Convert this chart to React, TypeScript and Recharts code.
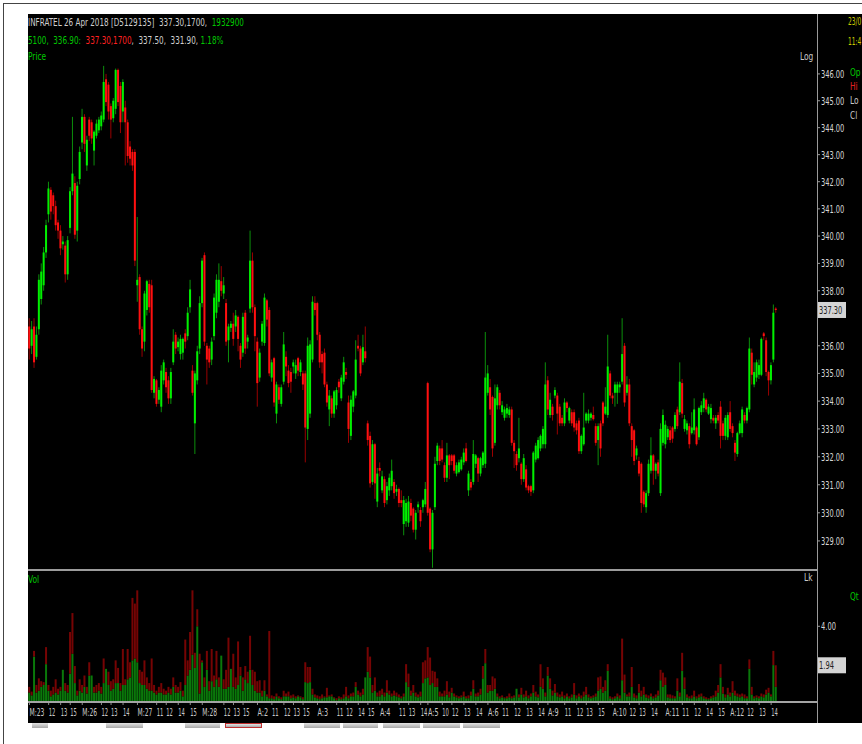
import { Bar, ComposedChart, ReferenceLine, XAxis, YAxis } from "recharts";

const FONT = '"Liberation Sans Narrow", "Arial Narrow", "DejaVu Sans Condensed", sans-serif';

// 10-minute candles, INFRATEL, 23 Mar - 12 Apr 2018
const opens = [
  336.7, 336.0, 336.7, 335.6, 336.6, 337.7, 338.2, 339.4, 340.8, 341.7,
  341.5, 341.1, 340.5, 340.2, 339.7, 339.65, 338.6, 340.3, 341.65, 341.95,
  340.2, 342.1, 343.45, 344.4, 342.6, 344.3, 344.2, 343.15, 343.7, 343.9,
  344.05, 344.3, 345.8, 345.6, 344.8, 344.35, 344.7, 346.15, 345.55, 344.6,
  344.75, 344.2, 343.3, 343.1, 343.1, 338.2, 338.5, 336.6, 336.15, 337.3,
  338.25, 338.2, 334.3, 334.75, 334.05, 333.8, 334.75, 335.05, 334.75, 334.1,
  335.4, 336.4, 335.95, 335.7, 335.75, 336.45, 336.35, 337.4, 335.1, 333.2,
  334.75, 335.9, 337.55, 339.3, 336.0, 335.9, 335.5, 336.35, 337.2, 337.6,
  338.35, 337.9, 337.55, 336.2, 336.65, 336.8, 336.7, 337.05, 336.0, 335.75,
  337.2, 336.15, 337.35, 339.1, 337.4, 336.15, 334.85, 336.15, 336.1, 337.65,
  337.3, 334.85, 335.55, 333.55, 334.5, 333.9, 334.7, 335.6, 335.1, 335.05,
  335.25, 335.0, 335.55, 335.05, 335.0, 335.0, 333.0, 333.55, 335.5, 337.55,
  337.55, 336.4, 335.7, 335.75, 334.6, 333.7, 334.1, 333.55, 333.85, 334.7,
  334.1, 334.7, 335.05, 333.95, 332.75, 333.8, 334.2, 336.0, 335.9, 335.4,
  335.8, 333.2, 332.75, 331.1, 332.45, 330.4, 331.6, 330.8, 331.2, 330.45,
  330.8, 330.95, 331.1, 330.75, 330.85, 330.45, 329.6, 329.7, 329.65, 330.35,
  330.15, 329.4, 330.2, 330.1, 330.2, 330.3, 334.65, 330.15, 328.7, 330.2,
  331.85, 332.3, 332.3, 331.7, 331.25, 332.05, 332.05, 332.05, 331.4, 331.45,
  331.55, 331.8, 332.3, 330.8, 331.1, 331.1, 331.75, 331.95, 331.4, 331.7,
  331.75, 334.3, 334.5, 334.15, 332.5, 333.85, 334.3, 333.6, 333.4, 333.55,
  333.5, 333.7, 332.5, 332.1, 331.95, 331.75, 331.2, 331.55, 330.95, 330.95,
  330.8, 331.9, 331.95, 332.3, 332.45, 332.45, 334.75, 333.5, 333.8, 334.2,
  334.2, 333.8, 333.4, 333.2, 333.95, 333.3, 333.6, 333.6, 333.2, 333.3,
  332.2, 332.45, 333.3, 333.3, 333.4, 333.5, 333.1, 332.6, 333.2, 333.95,
  333.55, 333.5, 335.0, 334.2, 334.3, 334.3, 334.5, 334.7, 336.0, 334.3,
  334.6, 333.1, 332.95, 332.05, 331.85, 331.75, 330.75, 330.2, 330.7, 331.5,
  332.05, 331.5, 331.8, 330.7, 332.5, 332.45, 332.7, 332.95, 333.05, 333.0,
  333.7, 333.6, 334.65, 333.0, 332.95, 333.1, 332.85, 332.95, 333.05, 332.7,
  333.6, 333.75, 334.05, 333.55, 333.35, 333.4, 333.2, 333.5, 333.8, 333.2,
  332.75, 332.7, 333.6, 333.1, 332.5, 332.1, 332.85, 332.85, 333.5, 333.3,
  333.7, 335.75, 334.6, 334.85, 334.95, 334.95, 336.45, 336.2, 335.05, 334.75,
  335.5, 337.35,
];

const highs = [
  337.0, 336.9, 337.0, 336.7, 338.6, 339.0, 339.6, 340.6, 342.0, 341.8,
  341.6, 341.3, 340.6, 340.4, 340.0, 339.8, 340.0, 341.8, 344.4, 342.2,
  342.0, 343.3, 344.7, 344.5, 343.7, 344.4, 344.3, 343.9, 344.3, 344.4,
  344.6, 346.3, 346.0, 345.7, 344.9, 345.1, 346.2, 346.2, 345.7, 345.8,
  345.0, 344.3, 343.5, 343.2, 343.2, 340.7, 338.6, 336.7, 338.0, 338.4,
  338.4, 338.4, 334.9, 334.8, 334.5, 335.3, 335.5, 335.2, 334.9, 335.2,
  336.6, 336.5, 336.3, 336.4, 336.3, 336.6, 337.4, 338.4, 335.3, 335.1,
  336.0, 337.8, 339.2, 339.4, 336.1, 336.0, 336.3, 337.9, 338.6, 339.0,
  338.9, 338.5, 337.7, 336.8, 336.9, 337.2, 337.3, 337.1, 336.1, 337.2,
  337.3, 336.4, 340.2, 339.4, 337.5, 336.3, 335.9, 336.9, 337.9, 337.7,
  337.4, 335.5, 335.6, 334.7, 334.6, 334.6, 336.5, 335.8, 335.3, 335.2,
  335.5, 335.5, 335.6, 335.5, 335.1, 335.1, 336.3, 336.2, 337.8, 337.8,
  337.6, 336.5, 335.8, 335.9, 334.7, 334.4, 334.2, 334.4, 334.5, 334.8,
  334.95, 335.6, 335.2, 334.2, 334.2, 334.4, 336.2, 336.4, 336.0, 336.4,
  336.7, 333.3, 332.9, 332.6, 332.5, 331.6, 331.8, 331.5, 331.3, 331.1,
  331.4, 331.9, 331.2, 331.0, 330.9, 330.8, 330.6, 330.5, 330.6, 330.5,
  330.2, 330.1, 330.4, 330.2, 330.5, 331.1, 334.7, 330.2, 330.1, 332.0,
  332.5, 332.4, 332.6, 331.8, 332.5, 332.1, 332.1, 332.1, 331.8, 331.9,
  332.0, 332.3, 332.5, 331.5, 331.2, 332.6, 332.1, 332.0, 332.0, 332.2,
  336.5, 335.3, 334.8, 334.2, 334.6, 334.6, 334.4, 334.0, 333.8, 333.9,
  333.8, 333.8, 332.6, 332.2, 333.4, 331.8, 332.1, 331.7, 331.0, 331.0,
  332.2, 332.5, 332.7, 332.8, 333.1, 335.4, 334.9, 334.3, 333.9, 334.5,
  334.3, 333.9, 333.5, 334.1, 334.0, 333.8, 333.7, 333.7, 333.3, 333.4,
  332.8, 334.3, 333.6, 333.7, 333.6, 333.8, 333.2, 333.2, 333.3, 334.0,
  334.5, 336.4, 335.1, 334.3, 334.7, 334.7, 334.7, 337.0, 336.1, 334.9,
  334.8, 333.2, 333.0, 332.4, 332.0, 331.8, 330.8, 330.8, 331.9, 332.7,
  332.1, 331.8, 331.9, 333.2, 333.7, 333.3, 333.1, 333.1, 333.1, 333.6,
  333.8, 335.4, 334.8, 333.5, 333.3, 333.2, 333.6, 334.1, 333.1, 333.8,
  334.0, 334.3, 334.1, 333.9, 333.9, 333.5, 333.5, 333.6, 334.0, 333.3,
  333.5, 333.6, 334.0, 333.2, 332.6, 332.9, 333.3, 333.8, 333.6, 333.8,
  336.3, 335.9, 335.4, 335.5, 335.5, 336.3, 336.5, 336.3, 335.1, 335.4,
  337.5, 337.4,
];

const lows = [
  335.5, 335.7, 335.2, 335.5, 336.4, 337.5, 338.0, 339.2, 340.5, 340.6,
  340.8, 340.2, 339.9, 339.3, 339.5, 338.3, 338.4, 340.1, 341.5, 339.9,
  339.8, 341.9, 343.2, 343.1, 342.4, 343.5, 343.4, 342.6, 343.6, 343.8,
  343.9, 344.2, 344.8, 344.3, 343.6, 344.2, 344.5, 344.8, 343.8, 344.2,
  342.6, 342.7, 342.6, 342.4, 338.9, 337.6, 336.4, 335.6, 335.8, 337.1,
  337.2, 334.3, 334.1, 333.8, 333.9, 333.6, 334.6, 334.3, 333.9, 333.9,
  335.3, 335.7, 335.8, 335.5, 335.5, 335.9, 336.2, 337.2, 334.2, 332.1,
  334.6, 335.7, 337.4, 336.0, 334.6, 335.2, 335.3, 336.2, 337.0, 337.4,
  337.8, 337.7, 336.0, 335.4, 336.5, 336.0, 336.5, 335.8, 335.2, 335.6,
  335.7, 335.9, 337.2, 337.2, 335.8, 333.8, 334.7, 336.0, 336.0, 336.7,
  334.9, 334.7, 333.8, 333.2, 333.9, 333.8, 334.6, 334.9, 334.5, 334.3,
  335.0, 334.8, 334.9, 334.9, 334.4, 331.8, 332.6, 333.4, 335.4, 337.1,
  336.2, 335.2, 335.0, 334.5, 333.8, 333.1, 333.4, 333.4, 333.7, 334.3,
  334.0, 334.6, 334.8, 332.5, 332.6, 333.6, 334.1, 335.8, 334.9, 335.3,
  335.4, 332.4, 330.9, 331.0, 330.5, 330.2, 331.3, 330.7, 330.2, 330.3,
  330.6, 330.8, 330.5, 330.6, 330.2, 330.2, 329.2, 329.5, 329.5, 329.7,
  329.3, 329.05, 330.0, 329.5, 330.0, 330.2, 329.9, 328.6, 328.05, 330.1,
  331.7, 331.7, 331.8, 331.1, 331.1, 331.2, 331.7, 331.4, 331.3, 331.4,
  331.5, 331.7, 331.8, 330.6, 330.8, 331.0, 331.6, 331.1, 331.3, 331.6,
  331.6, 334.2, 333.5, 332.0, 332.4, 333.7, 333.7, 333.5, 333.3, 333.4,
  333.4, 332.4, 331.6, 331.5, 331.8, 331.0, 331.1, 330.8, 330.7, 330.6,
  330.7, 331.8, 331.9, 332.2, 332.3, 332.3, 333.5, 333.4, 333.3, 334.1,
  332.8, 333.1, 333.1, 333.1, 333.6, 333.2, 333.1, 332.9, 332.8, 332.1,
  332.1, 332.4, 333.2, 333.2, 333.3, 333.3, 332.4, 331.7, 332.0, 333.1,
  333.5, 333.4, 334.1, 333.9, 333.8, 333.9, 334.3, 334.6, 333.8, 334.2,
  333.1, 332.0, 331.7, 331.9, 331.3, 330.0, 330.2, 330.0, 330.6, 331.4,
  331.0, 331.2, 331.3, 330.6, 332.4, 332.3, 332.6, 332.5, 332.5, 332.9,
  333.0, 333.5, 333.4, 332.9, 332.8, 332.3, 332.8, 332.8, 332.4, 332.6,
  333.5, 333.6, 333.6, 333.5, 333.2, 333.2, 333.0, 333.2, 332.3, 332.6,
  332.6, 332.6, 332.9, 332.7, 331.85, 332.0, 332.8, 332.7, 333.2, 333.2,
  333.6, 334.6, 334.5, 334.7, 334.8, 334.9, 336.2, 334.9, 334.2, 334.6,
  335.4, 337.2,
];

const closes = [
  335.9, 336.6, 335.4, 336.4, 338.4, 338.7, 339.4, 340.4, 341.75, 340.9,
  341.1, 340.4, 340.2, 339.55, 339.8, 338.6, 339.85, 341.65, 342.3, 340.05,
  341.85, 343.1, 344.4, 343.4, 343.55, 343.7, 343.6, 343.85, 344.15, 344.3,
  344.45, 345.7, 344.95, 344.6, 344.3, 345.0, 346.15, 344.95, 344.2, 345.7,
  344.2, 342.95, 342.85, 342.6, 339.1, 338.4, 336.6, 335.9, 337.9, 338.35,
  337.4, 334.4, 334.8, 333.9, 334.4, 335.1, 335.4, 334.5, 334.1, 335.05,
  336.15, 335.9, 336.15, 336.25, 336.25, 336.15, 337.2, 338.05, 334.3, 335.0,
  335.8, 337.55, 339.1, 336.15, 335.5, 335.4, 336.15, 337.75, 338.4, 338.4,
  338.0, 338.2, 336.15, 336.7, 336.8, 336.25, 337.1, 336.25, 335.5, 337.05,
  335.9, 336.3, 339.1, 337.4, 336.35, 334.65, 335.75, 336.8, 337.75, 336.95,
  335.0, 335.4, 333.95, 334.6, 334.05, 334.5, 336.05, 335.25, 334.65, 334.7,
  335.4, 335.3, 335.1, 335.4, 334.6, 333.05, 336.0, 336.05, 337.6, 337.3,
  336.4, 335.4, 335.4, 334.6, 333.95, 334.2, 333.55, 334.35, 334.4, 334.5,
  334.85, 335.4, 334.95, 333.0, 334.05, 334.35, 335.5, 335.9, 335.0, 335.95,
  335.55, 332.6, 331.05, 332.45, 331.05, 331.4, 331.5, 331.3, 330.35, 330.95,
  331.25, 331.5, 330.7, 330.85, 330.35, 330.35, 330.45, 330.35, 330.4, 329.9,
  329.4, 330.0, 330.3, 329.7, 330.45, 330.85, 330.0, 328.7, 330.0, 331.75,
  332.4, 331.85, 331.9, 331.25, 332.05, 331.7, 331.85, 331.5, 331.7, 331.8,
  331.9, 332.15, 331.85, 331.4, 330.9, 332.1, 332.05, 331.4, 331.95, 332.15,
  334.85, 335.0, 333.7, 332.3, 334.1, 334.5, 333.85, 333.85, 333.7, 333.75,
  333.7, 332.5, 332.2, 331.7, 332.3, 331.2, 331.95, 330.9, 330.8, 330.75,
  332.15, 332.4, 332.6, 332.75, 333.0, 334.6, 333.7, 334.05, 333.5, 334.4,
  333.55, 333.2, 333.2, 333.95, 333.75, 333.75, 333.2, 333.05, 332.95, 332.2,
  332.75, 333.05, 333.55, 333.55, 333.55, 333.35, 332.5, 333.1, 332.3, 333.2,
  333.8, 335.25, 334.2, 334.1, 334.6, 334.6, 334.6, 335.7, 333.95, 334.6,
  333.2, 332.6, 331.85, 332.3, 331.4, 330.35, 330.3, 330.7, 331.75, 332.05,
  331.5, 331.75, 331.4, 333.0, 333.5, 333.15, 333.0, 332.6, 332.65, 333.5,
  333.1, 334.7, 333.55, 333.35, 333.2, 332.45, 333.05, 333.7, 332.45, 333.75,
  333.85, 334.1, 333.7, 333.8, 333.75, 333.3, 333.4, 333.3, 332.75, 332.75,
  333.4, 333.5, 333.0, 332.85, 332.15, 332.85, 333.2, 333.7, 333.3, 333.75,
  335.9, 334.95, 335.05, 335.4, 335.3, 336.25, 336.35, 335.05, 334.75, 335.3,
  337.2, 337.3,
];

// volume in lakhs: total per candle and the buy share of it
const volTotal = [
  0.8, 0.55, 2.7, 0.9, 1.25, 1.1, 1.05, 2.9, 0.9, 0.6,
  0.8, 1.2, 0.7, 0.8, 1.7, 1.0, 0.9, 3.7, 4.7, 1.9,
  0.6, 1.2, 0.9, 1.4, 0.8, 2.1, 1.4, 0.8, 0.9, 1.0,
  0.8, 2.3, 1.75, 1.6, 1.1, 1.2, 2.2, 1.8, 1.0, 2.8,
  1.2, 2.8, 2.1, 5.5, 5.2, 5.9, 1.7, 1.6, 2.2, 1.3,
  1.0, 2.3, 0.9, 0.6, 0.8, 1.0, 0.7, 0.6, 0.8, 0.7,
  1.3, 0.9, 0.8, 1.05, 0.6, 3.3, 2.2, 3.7, 5.9, 2.6,
  4.9, 2.55, 2.2, 1.3, 2.7, 1.1, 2.8, 1.4, 2.7, 1.3,
  2.45, 1.2, 1.7, 3.4, 1.75, 2.55, 1.3, 3.2, 1.85, 1.3,
  1.9, 1.6, 3.5, 1.7, 1.6, 1.1, 1.15, 0.6, 1.15, 0.4,
  3.75, 0.35, 0.3, 0.45, 0.3, 0.25, 0.6, 0.45, 0.55, 0.35,
  0.4, 0.3, 0.35, 0.3, 0.25, 2.1, 1.85, 1.85, 0.7, 0.4,
  0.35, 0.3, 0.4, 0.3, 0.75, 0.35, 0.4, 0.25, 0.2, 0.3,
  0.25, 0.4, 0.8, 0.35, 0.45, 0.5, 1.05, 0.6, 0.5, 0.7,
  1.3, 2.9, 2.4, 0.9, 1.3, 0.5, 0.6, 0.7, 0.5, 1.15,
  0.6, 0.45, 0.6, 0.5, 0.4, 0.3, 0.45, 2.0, 1.5, 0.6,
  0.9, 0.5, 0.4, 0.55, 2.1, 2.2, 2.9, 2.35, 1.65, 1.6,
  1.25, 0.55, 0.45, 0.6, 1.1, 0.55, 0.75, 0.45, 0.35, 0.3,
  0.35, 0.55, 0.3, 0.35, 0.55, 1.15, 0.45, 0.5, 0.7, 1.9,
  2.8, 0.9, 0.9, 1.35, 1.25, 0.45, 0.3, 0.35, 0.25, 0.3,
  0.45, 0.3, 0.35, 0.7, 0.4, 0.75, 0.4, 0.6, 0.35, 0.45,
  0.9, 0.55, 0.4, 2.0, 1.25, 0.5, 1.85, 1.25, 0.6, 0.95,
  0.5, 0.4, 0.55, 0.35, 0.45, 0.3, 0.4, 1.0, 0.35, 0.45,
  0.35, 0.55, 0.8, 0.4, 0.3, 0.35, 0.45, 1.3, 1.35, 0.8,
  1.15, 2.0, 0.3, 0.25, 0.3, 0.45, 0.35, 3.35, 1.45, 0.4,
  0.5, 1.85, 0.45, 0.35, 0.95, 0.6, 0.8, 0.4, 0.35, 0.45,
  0.3, 0.4, 0.6, 1.7, 1.55, 1.3, 0.4, 0.4, 0.35, 0.3,
  1.25, 0.5, 2.6, 1.3, 0.4, 0.3, 0.35, 0.6, 0.3, 0.4,
  0.45, 0.3, 0.25, 0.2, 0.3, 0.35, 0.6, 0.9, 2.0, 0.8,
  0.4, 0.75, 0.5, 1.1, 0.6, 0.45, 0.4, 0.45, 0.4, 0.3,
  2.25, 0.8, 0.3, 0.35, 0.3, 0.45, 0.4, 0.65, 0.75, 0.4,
  2.7, 1.94,
];

const volBuy = [
  0.5, 0.35, 2.4, 0.5, 0.6, 0.8, 0.9, 2.0, 0.6, 0.3,
  0.4, 0.5, 0.4, 0.6, 1.7, 0.6, 0.5, 1.5, 2.55, 1.0,
  0.35, 0.6, 0.5, 0.8, 0.45, 1.4, 1.4, 0.5, 0.5, 0.6,
  0.45, 1.0, 1.75, 0.9, 0.6, 0.7, 1.0, 1.0, 0.6, 0.9,
  0.9, 1.2, 1.3, 2.2, 2.3, 2.1, 1.0, 0.9, 0.9, 0.7,
  0.6, 0.6, 0.5, 0.4, 0.5, 0.5, 0.4, 0.4, 0.5, 0.4,
  0.8, 0.5, 0.5, 0.6, 0.3, 0.9, 1.4, 1.7, 2.5, 1.8,
  4.0, 0.45, 2.1, 0.8, 1.7, 0.6, 1.1, 0.8, 1.2, 0.8,
  2.45, 0.7, 0.7, 0.8, 1.75, 0.8, 0.7, 0.9, 1.4, 0.6,
  1.2, 1.0, 1.7, 0.9, 0.6, 0.5, 0.5, 0.3, 0.6, 0.3,
  0.2, 0.2, 0.15, 0.3, 0.2, 0.15, 0.3, 0.3, 0.3, 0.2,
  0.25, 0.2, 0.3, 0.25, 0.15, 1.05, 1.0, 1.05, 0.4, 0.25,
  0.2, 0.15, 0.2, 0.25, 0.25, 0.3, 0.3, 0.2, 0.1, 0.2,
  0.15, 0.2, 0.3, 0.2, 0.3, 0.3, 0.8, 0.4, 0.3, 0.4,
  1.3, 1.6, 1.3, 0.5, 0.6, 0.3, 0.3, 0.4, 0.3, 0.5,
  0.4, 0.3, 0.35, 0.3, 0.25, 0.2, 0.3, 1.05, 0.8, 0.35,
  0.5, 0.3, 0.25, 0.3, 1.0, 1.25, 1.3, 0.9, 1.0, 0.8,
  0.8, 0.3, 0.3, 0.3, 0.4, 0.25, 0.5, 0.3, 0.25, 0.2,
  0.25, 0.3, 0.2, 0.2, 0.35, 0.7, 0.3, 0.3, 0.4, 1.25,
  2.05, 0.5, 0.6, 0.6, 0.7, 0.3, 0.2, 0.25, 0.2, 0.2,
  0.25, 0.2, 0.25, 0.7, 0.25, 0.4, 0.25, 0.3, 0.2, 0.3,
  0.5, 0.3, 0.25, 0.8, 0.7, 0.3, 1.4, 0.7, 0.35, 0.5,
  0.3, 0.25, 0.3, 0.2, 0.3, 0.2, 0.25, 0.4, 0.2, 0.3,
  0.2, 0.3, 0.4, 0.25, 0.2, 0.25, 0.3, 0.6, 0.7, 0.5,
  0.6, 1.65, 0.2, 0.15, 0.2, 0.3, 0.2, 1.15, 0.5, 0.3,
  0.3, 0.8, 0.25, 0.2, 0.5, 0.3, 0.4, 0.25, 0.2, 0.3,
  0.2, 0.25, 0.35, 1.15, 0.8, 0.9, 0.25, 0.2, 0.2, 0.2,
  0.6, 0.3, 1.65, 0.7, 0.25, 0.2, 0.2, 0.3, 0.2, 0.25,
  0.3, 0.2, 0.15, 0.15, 0.2, 0.25, 0.3, 0.5, 1.3, 0.45,
  0.25, 0.4, 0.3, 0.5, 0.35, 0.3, 0.25, 0.3, 0.2, 0.2,
  1.75, 0.4, 0.2, 0.25, 0.2, 0.3, 0.25, 0.4, 0.5, 0.3,
  1.95, 0.8,
];

const tickIdx = [
  0, 8, 13, 17, 22, 30, 34, 39, 45, 53, 57, 62, 67, 72, 81, 85, 89, 95, 101, 106,
  110, 114, 120, 128, 132, 137, 141, 146, 154, 158, 163, 166, 172, 176, 181, 186,
  191, 197, 202, 207, 212, 216, 223, 228, 232, 237, 243, 250, 254, 259, 265, 272,
  277, 282, 287, 292, 299, 304, 309,
];
const tickLabels = [
  "M:23", "12", "13", "15", "M:26", "12", "13", "14", "M:27", "11", "12", "14", "15",
  "M:28", "12", "13", "15", "A:2", "11", "12", "13", "15", "A:3", "11", "12", "14", "15",
  "A:4", "11", "13", "14", "A:5", "10", "12", "13", "14", "A:6", "11", "12", "13", "14",
  "A:9", "11", "12", "13", "15", "A:10", "12", "13", "14", "A:11", "11", "12", "14", "15",
  "A:12", "12", "13", "14",
];

// 337.00 sits under the last-price tag in the terminal, so it is not listed
const priceTicks = [329, 330, 331, 332, 333, 334, 335, 336, 338, 339, 340, 341, 342, 343, 344, 345, 346];
const lastPrice = 337.3;
const lastVol = 1.94;

const X_DOMAIN: [number, number] = [-0.6, 328.1];

const candles = opens.map((open, i) => ({ i, open, high: highs[i], low: lows[i], close: closes[i] }));
const volRows = volTotal.map((t, i) => ({ i, buy: volBuy[i], sell: Math.max(t - volBuy[i], 0) }));

// glyph widths of the terminal's narrow font
const glyphW = (c: string, digit: number) => {
  if (c >= "0" && c <= "9") return digit;
  if (c === "M") return 6;
  if (c === "A") return 5;
  if (c === ":" || c === ".") return 2.3;
  return 4;
};
const textW = (s: string, digit: number) => s.split("").reduce((a, c) => a + glyphW(c, digit), 0);

function Candle(props: any) {
  const { x, y, width, height, payload } = props;
  if (x == null || y == null || !payload) return null;
  const { open, close, high, low } = payload;
  const up = close >= open;
  const top = Math.min(y, y + height);
  const h = Math.abs(height);
  const span = Math.log(high) - Math.log(low);
  const toY = (v: number) => (span > 0 ? top + (h * (Math.log(high) - Math.log(v))) / span : top);
  const cx = x + width / 2;
  const bTop = toY(Math.max(open, close));
  const bBot = toY(Math.min(open, close));
  return (
    <g>
      <line x1={cx} x2={cx} y1={top} y2={top + Math.max(h, 1)} stroke={up ? "#0b8f0b" : "#9a0000"} strokeWidth={1} />
      <rect x={cx - 1} y={bTop} width={2} height={Math.max(bBot - bTop, 1)} fill={up ? "#00f000" : "#ff1010"} />
    </g>
  );
}

function Narrow({ x, y, text, fill, digit = 4.2, size = 11, dy }: any) {
  return (
    <text
      x={x}
      y={y}
      dy={dy}
      fill={fill}
      fontSize={size}
      fontFamily={FONT}
      textAnchor="start"
      textLength={textW(text, digit)}
      lengthAdjust="spacingAndGlyphs"
    >
      {text}
    </text>
  );
}

function Tag(props: any) {
  const { viewBox, text } = props;
  if (!viewBox) return null;
  const x = viewBox.x + viewBox.width + 1;
  const y = viewBox.y;
  return (
    <g>
      <rect x={x} y={y - 8} width={28} height={16} fill="#d4d4d4" />
      <Narrow x={x + 1} y={y + 4} text={text} fill="#222" />
    </g>
  );
}

function ValueTick(props: any) {
  const { x, y, payload } = props;
  return <Narrow x={x} y={y} dy="0.36em" text={payload.value.toFixed(2)} fill="#d6d6d6" />;
}

function TimeTick(props: any) {
  const { x, y, payload } = props;
  const k = tickIdx.indexOf(payload.value);
  return (
    <g>
      <line x1={x} x2={x} y1={y + 1} y2={y + 3} stroke="#8c8c8c" />
      <Narrow x={x} y={y + 14} text={tickLabels[k]} fill="#c8c8c8" digit={3.3} size={10.5} />
    </g>
  );
}

const line = (top: number, children: any) => (
  <div
    style={{
      position: "absolute",
      left: 28,
      top,
      fontFamily: FONT,
      fontSize: 11,
      lineHeight: "13px",
      whiteSpace: "pre",
      transform: "scaleX(0.73)",
      transformOrigin: "0 0",
    }}
  >
    {children}
  </div>
);

const txt = (left: number, top: number, color: string, content: string, sx = 0.75) => (
  <div
    style={{
      position: "absolute",
      left,
      top,
      color,
      fontFamily: FONT,
      fontSize: 11,
      lineHeight: "13px",
      whiteSpace: "pre",
      transform: `scaleX(${sx})`,
      transformOrigin: "0 0",
    }}
  >
    {content}
  </div>
);

const tabs = [
  { x: 32, w: 16 },
  { x: 106, w: 37 },
  { x: 185, w: 35 },
  { x: 225, w: 37, red: true },
  { x: 304, w: 36 },
  { x: 343, w: 35 },
  { x: 383, w: 37 },
  { x: 423, w: 37 },
  { x: 463, w: 37 },
];

export default function App() {
  return (
    <div
      style={{
        position: "absolute",
        left: 0,
        top: 0,
        width: 862,
        height: 744,
        background: "#fff",
        overflow: "hidden",
      }}
    >
      <div style={{ position: "absolute", left: 3, top: 3, width: 859, height: 1, background: "#444" }} />
      <div style={{ position: "absolute", left: 3, top: 3, width: 1, height: 741, background: "#444" }} />
      <div style={{ position: "absolute", left: 28, top: 14, width: 834, height: 709, background: "#000" }} />

      {tabs.map((t, k) => (
        <div
          key={k}
          style={{
            position: "absolute",
            left: t.x,
            top: 723,
            width: t.w,
            height: 5,
            background: "linear-gradient(#e4e4e4, #a8a8a8)",
            border: t.red ? "1px solid #c03030" : "none",
            boxSizing: "border-box",
          }}
        />
      ))}

      <div style={{ position: "absolute", left: 28, top: 14 }}>
        <ComposedChart width={834} height={556} data={candles} margin={{ top: 46, right: 0, bottom: 0, left: 0 }}>
          <XAxis dataKey="i" type="number" domain={X_DOMAIN} allowDataOverflow hide />
          <YAxis
            orientation="right"
            width={45}
            type="number"
            scale="log"
            domain={[327.97, 346.52]}
            allowDataOverflow
            ticks={priceTicks}
            interval={0}
            axisLine={false}
            tickLine={{ stroke: "#9a9a9a" }}
            tickSize={3}
            tickMargin={1}
            tick={<ValueTick />}
          />
          <Bar
            dataKey={(d: any) => [d.low, d.high]}
            barSize={2}
            shape={(p: any) => <Candle {...p} />}
            isAnimationActive={false}
          />
          <ReferenceLine y={lastPrice} stroke="none" label={<Tag text={lastPrice.toFixed(2)} />} />
        </ComposedChart>
      </div>

      <div style={{ position: "absolute", left: 28, top: 570 }}>
        <ComposedChart width={834} height={153} data={volRows} margin={{ top: 5, right: 0, bottom: 0, left: 0 }}>
          <XAxis
            dataKey="i"
            type="number"
            domain={X_DOMAIN}
            allowDataOverflow
            ticks={tickIdx}
            interval={0}
            height={21}
            tickSize={0}
            tickMargin={0}
            tickLine={false}
            axisLine={{ stroke: "#a4a4a4", strokeWidth: 2 }}
            tick={<TimeTick />}
          />
          <YAxis
            orientation="right"
            width={45}
            type="number"
            domain={[0, 6.71]}
            allowDataOverflow
            ticks={[4]}
            interval={0}
            axisLine={false}
            tickLine={{ stroke: "#9a9a9a" }}
            tickSize={3}
            tickMargin={1}
            tick={<ValueTick />}
          />
          <Bar dataKey="buy" stackId="v" fill="#0a780a" barSize={2} isAnimationActive={false} />
          <Bar dataKey="sell" stackId="v" fill="#760404" barSize={2} isAnimationActive={false} />
          <ReferenceLine y={lastVol} stroke="none" label={<Tag text={lastVol.toFixed(2)} />} />
        </ComposedChart>
      </div>

      {/* panel frame lines */}
      <div style={{ position: "absolute", left: 817, top: 14, width: 1, height: 709, background: "#9a9a9a" }} />
      <div style={{ position: "absolute", left: 28, top: 569, width: 789, height: 2, background: "#9c9c9c" }} />

      {/* header */}
      {line(16, [
        <span key="a" style={{ color: "#cfcfcf" }}>INFRATEL 26 Apr 2018 [D5129135]  337.30,1700,  </span>,
        <span key="b" style={{ color: "#00c800" }}>1932900</span>,
      ])}
      {line(34, [
        <span key="a" style={{ color: "#00c800" }}>5100,  336.90:  </span>,
        <span key="b" style={{ color: "#ff2020" }}>337.30,1700</span>,
        <span key="c" style={{ color: "#cfcfcf" }}>,  337.50,  331.90, </span>,
        <span key="d" style={{ color: "#00c800" }}>1.18%</span>,
      ])}
      {txt(28, 50, "#00c800", "Price")}
      {txt(800, 50, "#c8c8c8", "Log")}
      {txt(28, 573, "#00c800", "Vol")}
      {txt(804, 571, "#c8c8c8", "Lk")}

      {/* right info column (the terminal window cuts these at its edge) */}
      {txt(848, 15, "#c8c800", "23/0", 0.6)}
      {txt(848, 35, "#c8c800", "11:4", 0.6)}
      {txt(850, 66, "#00c800", "Op")}
      {txt(850, 80, "#e02020", "Hi")}
      {txt(850, 94, "#c8c8c8", "Lo")}
      {txt(850, 109, "#c8c8c8", "Cl")}
      {txt(850, 590, "#00c800", "Qt")}
    </div>
  );
}
